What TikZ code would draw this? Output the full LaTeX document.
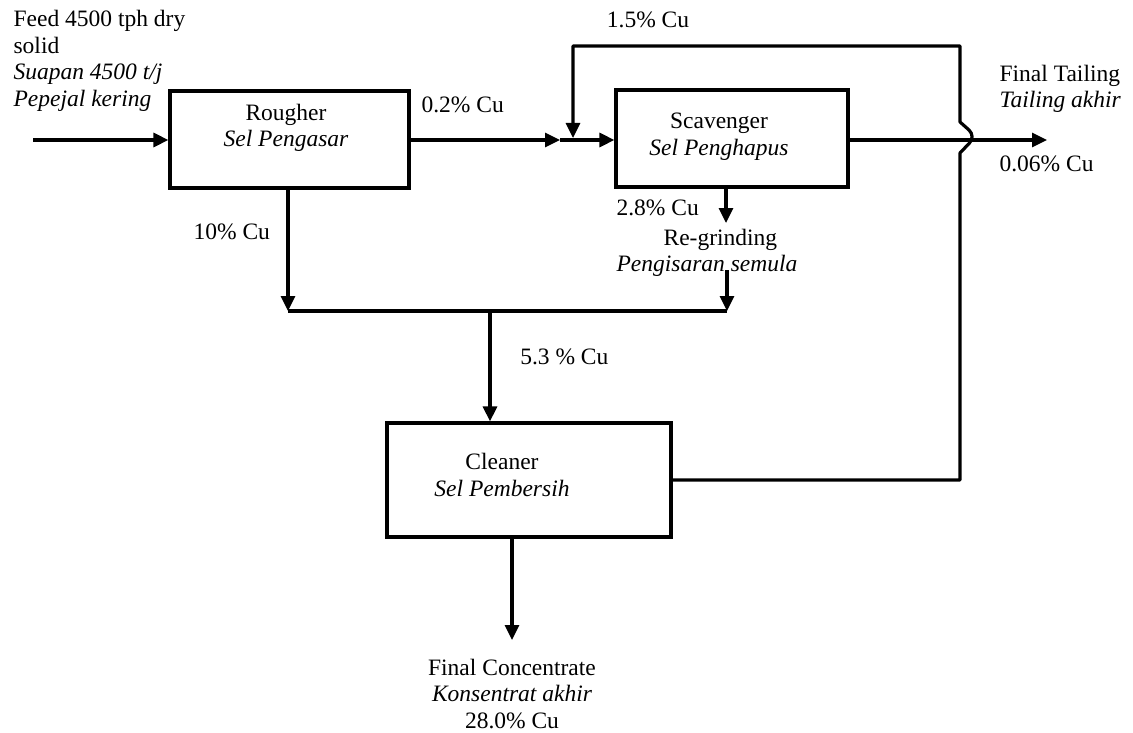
\documentclass[tikz,border=0pt]{standalone}
\usepackage{fontspec}
\setmainfont{Liberation Serif}
\usetikzlibrary{arrows.meta}
\begin{document}
\begin{tikzpicture}[x=1pt,y=-1pt,
  line width=3.2pt,
  every node/.style={inner sep=0pt, font=\fontsize{23.5}{26.5}\selectfont},
  cell/.style={draw, line width=3.2pt, rectangle},
  lbl/.style={anchor=west, align=left},
  flow/.style={-{Triangle[length=15pt,width=14pt]}}]
\useasboundingbox (0,0) rectangle (1133,733);
% boxes
\node[cell, minimum width=239pt, minimum height=97pt] (rough) at (289.5,139.5) {};
\node[cell, minimum width=232pt, minimum height=97pt] (scav) at (732,138.5) {};
\node[cell, minimum width=284pt, minimum height=114pt] (clean) at (529,480) {};
% box texts
\node[align=center] (troug) at (286,128) {Rougher\\\textit{Sel Pengasar}};
\node[align=center] (tscav) at (719,136.5) {Scavenger\\\textit{Sel Penghapus}};
\node[align=center] (tclean) at (502,475) {Cleaner\\\textit{Sel Pembersih}};
% labels
\node[lbl] (tfeed) at (12,61) {Feed 4500 tph dry\\solid\\\textit{Suapan 4500 t/j}\\\textit{Pepejal kering}};
\node[lbl] (t02) at (420,105) {0.2\% Cu};
\node (t15) at (648,20) {1.5\% Cu};
\node[lbl] (ttail) at (998,89) {Final Tailing\\\textit{Tailing akhir}};
\node[lbl] (t006) at (998,164) {0.06\% Cu};
\node[lbl] (t10) at (192,232) {10\% Cu};
\node[lbl] (t28) at (615,208) {2.8\% Cu};
\node[lbl] (tregr) at (662,240) {Re-grinding};
\node[lbl] (tpeng) at (615,266) {\textit{Pengisaran semula}};
\node[anchor=east] (t53) at (610,357) {5.3 \% Cu};
\node[align=center] (tconc) at (512,694) {Final Concentrate\\\textit{Konsentrat akhir}\\28.0\% Cu};
% coordinates
\coordinate (feedin) at (33,140);
\coordinate (j1) at (560,140);
\coordinate (tailout) at (1047,140);
\coordinate (mL) at (288,311);
\coordinate (mR) at (727,311);
\coordinate (mC) at (490,311);
\coordinate (rg) at (727,270);
\coordinate (sb) at (726,223);
\coordinate (cc) at (512,640);
% connectors
\draw[flow] (feedin) -- (rough.west |- feedin);
\draw[flow] (rough.east |- j1) -- (j1);
\draw[flow] (j1) -- (scav.west |- j1);
\draw[flow] (scav.east |- tailout) -- (tailout);
\draw[flow] (rough.south -| mL) -- (mL);
\draw (mL) -- (mR);
\draw[flow] (scav.south -| sb) -- (sb);
\draw[flow] (rg) -- (mR);
\draw[flow] (mC) -- (clean.north -| mC);
\draw[flow] (clean.south -| cc) -- (cc);
\draw[flow, line join=round] (clean.east) -- (960,480) -- (960,153)
  -- (969.5,143) .. controls (973,139) and (973,134) .. (969,130)
  -- (960,122) -- (960,46) -- (573,46) -- (573,138);
\end{tikzpicture}
\end{document}
